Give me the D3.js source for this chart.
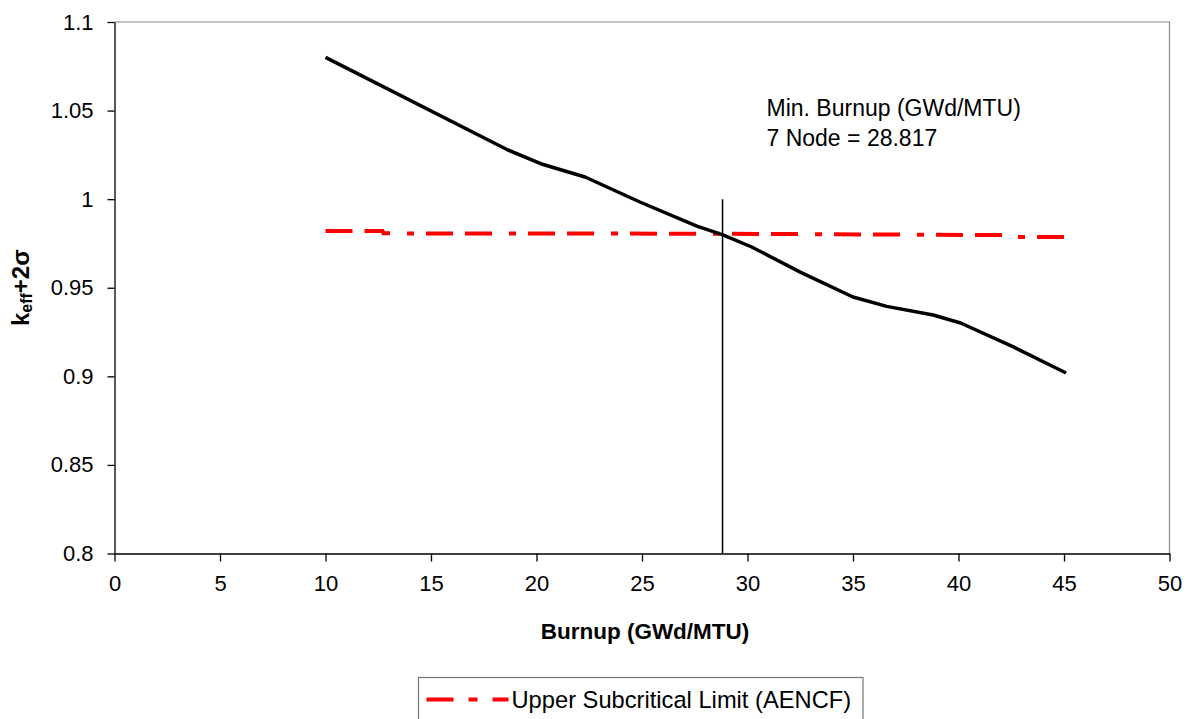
<!DOCTYPE html>
<html>
  <head>
    <title>Burnup vs keff</title>
    <style>
      body { margin: 0; background: #fff; }
      svg text { font-family: "Liberation Sans", Arial, sans-serif; fill: #000; }
    </style>
  </head>
  <body>
    <svg width="1190" height="719"></svg>
    <script src="https://d3js.org/d3.v7.min.js"></script>
    <script>

    // values
    var burnup = [10, 18.6, 20.2, 22.3, 24.9, 27.6, 28.8, 30.2, 32.5, 35.0, 36.6, 38.8, 40.1, 42.6, 45.1];
    var keff   = [1.080, 1.028, 1.020, 1.0125, 0.9984, 0.9848, 0.980, 0.973, 0.9588, 0.9448, 0.9395, 0.9346, 0.9301, 0.9166, 0.9019];

    var uslBurnup = [10, 12.7, 12.75, 28.8, 42.7, 42.75, 45.1];
    var uslValue  = [0.9820, 0.9820, 0.9807, 0.9805, 0.9797, 0.9787, 0.9786];

    var minBurnup = 28.817;
    var xTicks = [0, 5, 10, 15, 20, 25, 30, 35, 40, 45, 50];
    var yTicks = [0.8, 0.85, 0.9, 0.95, 1.0, 1.05, 1.1];

    var svg = d3.select("svg"),
        margin = {top: 22, right: 20.5, bottom: 165.5, left: 114.5},
        width = +svg.attr("width") - margin.left - margin.right,
        height = +svg.attr("height") - margin.top - margin.bottom,
        g = svg.append("g")
          .attr("transform", "translate(" + margin.left + "," + margin.top + ")");

    var x = d3.scaleLinear().domain([0, 50]).range([0, width]);
    var y = d3.scaleLinear().domain([0.8, 1.1]).range([height, 0]);

    // gray frame on top and right
    g.append("path")
      .attr("fill", "none")
      .attr("stroke", "#888")
      .attr("stroke-width", 1.2)
      .attr("d", "M0,0H" + width + "V" + height);

    var xAxis = g.append("g")
        .attr("transform", "translate(0," + height + ")")
        .call(d3.axisBottom(x).tickValues(xTicks).tickSize(8).tickSizeOuter(0).tickPadding(14)
          .tickFormat(d3.format("d")));
    var yAxis = g.append("g")
        .call(d3.axisLeft(y).tickValues(yTicks).tickSize(7).tickSizeOuter(0).tickPadding(14)
          .tickFormat(function(d) { return +d.toFixed(2) + ""; }));

    [xAxis, yAxis].forEach(function(a) {
      a.selectAll("path, line").attr("stroke", "#000").attr("stroke-width", 1.3);
      a.selectAll("text").attr("font-size", 22).attr("font-family", "Liberation Sans, Arial, sans-serif");
    });

    // min burnup marker
    g.append("line")
      .attr("x1", x(minBurnup)).attr("x2", x(minBurnup))
      .attr("y1", y(1.0)).attr("y2", y(0.8))
      .attr("stroke", "#000").attr("stroke-width", 1.5);

    var line = d3.line()
      .x(function(d) { return x(d[0]); })
      .y(function(d) { return y(d[1]); });

    g.append("path")
      .attr("fill", "none")
      .attr("stroke", "#ff0000")
      .attr("stroke-width", 4)
      .attr("stroke-dasharray", "27,12,27,17,7,12")
      .attr("d", line(d3.zip(uslBurnup, uslValue)));

    g.append("path")
      .attr("fill", "none")
      .attr("stroke", "#000")
      .attr("stroke-width", 3.5)
      .attr("stroke-linejoin", "round")
      .attr("d", line(d3.zip(burnup, keff)));

    // annotation
    var note = g.append("text")
      .attr("x", 652).attr("y", 94)
      .attr("font-size", 23);
    note.append("tspan").attr("x", 652).text("Min. Burnup (GWd/MTU)");
    note.append("tspan").attr("x", 652).attr("dy", 30).text("7 Node = " + minBurnup);

    // axis titles
    svg.append("text")
      .attr("x", margin.left + width / 2 + 3).attr("y", 639)
      .attr("text-anchor", "middle")
      .attr("font-size", 22.5).attr("font-weight", "bold")
      .text("Burnup (GWd/MTU)");

    var yt = svg.append("text")
      .attr("transform", "translate(29," + (margin.top + height / 2) + ") rotate(-90)")
      .attr("text-anchor", "middle")
      .attr("font-size", 24).attr("font-weight", "bold");
    yt.append("tspan").text("k");
    yt.append("tspan").attr("font-size", 16).attr("dy", 3).text("eff");
    yt.append("tspan").attr("dy", -3).text("+2σ");

    // legend
    var lg = svg.append("g").attr("transform", "translate(418.5,677.5)");
    lg.append("rect")
      .attr("width", 444.5).attr("height", 50)
      .attr("fill", "#fff").attr("stroke", "#777").attr("stroke-width", 1.2);
    lg.append("line")
      .attr("x1", 8).attr("x2", 90).attr("y1", 22).attr("y2", 22)
      .attr("stroke", "#ff0000").attr("stroke-width", 4)
      .attr("stroke-dasharray", "27,15,9,15,27");
    lg.append("text")
      .attr("x", 93).attr("y", 30)
      .attr("font-size", 23.7)
      .text("Upper Subcritical Limit (AENCF)");

    </script>
  </body>
</html>
